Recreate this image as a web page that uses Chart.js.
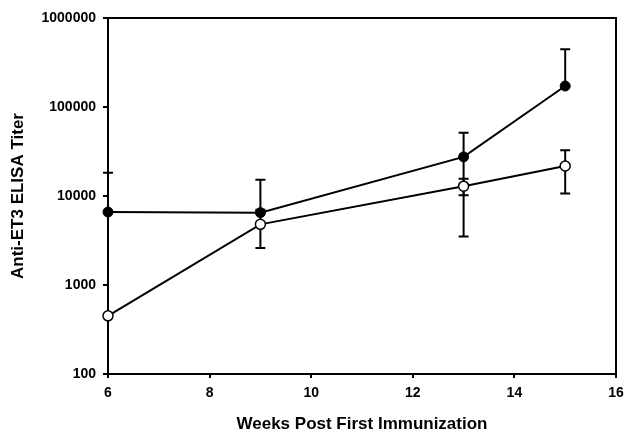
<!DOCTYPE html>
<html lang="en">
<head>
    <meta charset="UTF-8">
    <title>Anti-ET3 ELISA Titer</title>
    <script src="https://cdn.jsdelivr.net/npm/chart.js"></script>
    <style>
        body { margin: 0; background: #fff; }
        #wrap { width: 626px; height: 435px; }
    </style>
</head>
<body>
    <div id="wrap"><canvas id="titerChart" width="626" height="435"></canvas></div>

    <script>
        // Data
        const weeks = [6, 9, 13, 15];
        const filledTiter = [6600, 6500, 27500, 172000];
        const filledErr = [11600, 8700, 24000, 274000];
        const openTiter = [450, 4800, 12900, 21700];
        const openErr = [0, 2200, 2700, 11000];
        const yTicks = [100, 1000, 10000, 100000, 1000000];
        const xTicks = [6, 8, 10, 12, 14, 16];

        const fontFamily = '"Liberation Sans", Arial, sans-serif';

        // Error bars drawn through the chart scales
        const errorBars = {
            id: 'errorBars',
            beforeDatasetsDraw(chart) {
                const ctx = chart.ctx;
                const x = chart.scales.x;
                const y = chart.scales.y;
                ctx.save();
                ctx.strokeStyle = '#000';
                ctx.lineWidth = 2;
                chart.data.datasets.forEach(ds => {
                    ds.data.forEach((pt, i) => {
                        const err = ds.errors[i];
                        if (!err) return;
                        const px = x.getPixelForValue(pt.x);
                        const py = y.getPixelForValue(pt.y);
                        const top = y.getPixelForValue(pt.y + err);
                        const low = pt.y - err;
                        ctx.beginPath();
                        ctx.moveTo(px, py);
                        ctx.lineTo(px, top);
                        ctx.moveTo(px - 5, top);
                        ctx.lineTo(px + 5, top);
                        if (low > 0) {
                            const bot = y.getPixelForValue(low);
                            ctx.moveTo(px, py);
                            ctx.lineTo(px, bot);
                            ctx.moveTo(px - 5, bot);
                            ctx.lineTo(px + 5, bot);
                        }
                        ctx.stroke();
                    });
                });
                ctx.restore();
            },
            afterDraw(chart) {
                // close the frame on top and right
                const { ctx, chartArea } = chart;
                ctx.save();
                ctx.strokeStyle = '#000';
                ctx.lineWidth = 2;
                ctx.beginPath();
                ctx.moveTo(chartArea.left, chartArea.top);
                ctx.lineTo(chartArea.right, chartArea.top);
                ctx.lineTo(chartArea.right, chartArea.bottom);
                ctx.stroke();
                ctx.restore();
            }
        };

        const toPoints = (vals) => vals.map((v, i) => ({ x: weeks[i], y: v }));

        new Chart(document.getElementById('titerChart'), {
            type: 'line',
            data: {
                datasets: [{
                    label: 'Filled',
                    data: toPoints(filledTiter),
                    errors: filledErr,
                    borderColor: '#000',
                    borderWidth: 2,
                    pointRadius: 5,
                    pointBackgroundColor: '#000',
                    pointBorderColor: '#000',
                    pointBorderWidth: 1,
                    tension: 0,
                    clip: false
                }, {
                    label: 'Open',
                    data: toPoints(openTiter),
                    errors: openErr,
                    borderColor: '#000',
                    borderWidth: 2,
                    pointRadius: 5,
                    pointBackgroundColor: '#fff',
                    pointBorderColor: '#000',
                    pointBorderWidth: 1.5,
                    tension: 0,
                    clip: false
                }]
            },
            options: {
                responsive: false,
                animation: false,
                layout: { padding: { top: 18, right: 10, bottom: 0, left: 0 } },
                scales: {
                    x: {
                        type: 'linear',
                        min: 6,
                        max: 16,
                        afterFit: s => { s.height = 61; s.paddingRight = 0; s.paddingLeft = 0; },
                        afterBuildTicks: s => { s.ticks = xTicks.map(v => ({ value: v })); },
                        border: { display: true, color: '#000', width: 2 },
                        grid: { drawOnChartArea: false, drawTicks: true, tickLength: 4, color: '#000', lineWidth: 2 },
                        ticks: { color: '#000', padding: 7, maxRotation: 0, font: { family: fontFamily, size: 14, weight: 'bold' } },
                        title: {
                            display: true,
                            text: 'Weeks Post First Immunization',
                            color: '#000',
                            padding: { top: 0, bottom: 0 },
                            font: { family: fontFamily, size: 17, weight: 'bold' }
                        }
                    },
                    y: {
                        type: 'logarithmic',
                        min: 100,
                        max: 1000000,
                        afterFit: s => { s.width = 108; },
                        afterBuildTicks: s => { s.ticks = yTicks.map(v => ({ value: v })); },
                        border: { display: true, color: '#000', width: 2 },
                        grid: { drawOnChartArea: false, drawTicks: true, tickLength: 5, color: '#000', lineWidth: 2 },
                        ticks: {
                            color: '#000',
                            padding: 7,
                            font: { family: fontFamily, size: 14, weight: 'bold' },
                            callback: v => String(v)
                        },
                        title: {
                            display: true,
                            text: 'Anti-ET3 ELISA Titer',
                            color: '#000',
                            padding: { top: 8, bottom: 0 },
                            font: { family: fontFamily, size: 17, weight: 'bold' }
                        }
                    }
                },
                plugins: {
                    legend: { display: false },
                    tooltip: { enabled: false }
                }
            },
            plugins: [errorBars]
        });
    </script>
</body>
</html>
